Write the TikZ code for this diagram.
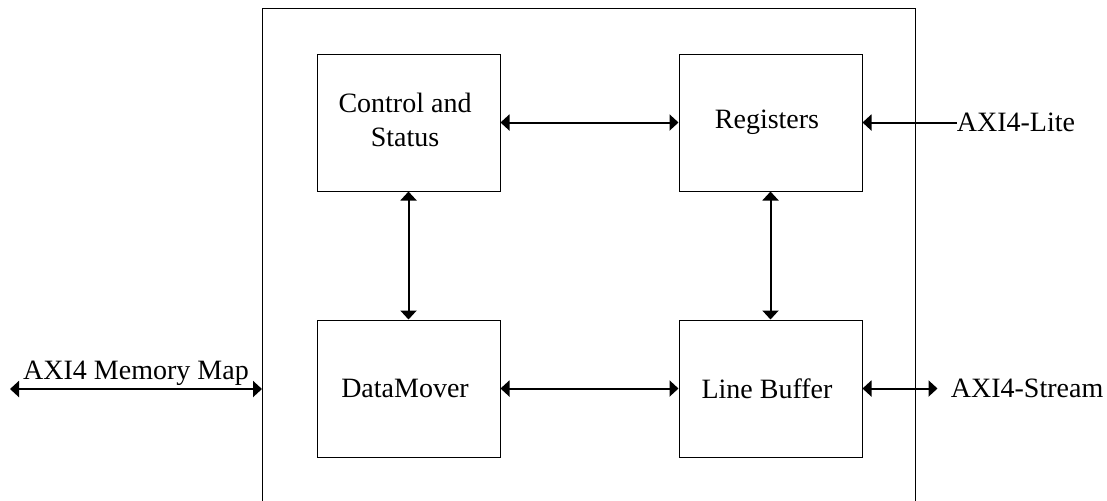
\documentclass[tikz,border=0pt]{standalone}
\usepackage{fontspec}
\setmainfont{Liberation Serif}
\usetikzlibrary{matrix,arrows.meta,positioning}

\begin{document}
\begin{tikzpicture}[x=0.5pt, y=-0.5pt,
		font=\fontsize{14}{17}\selectfont,
		>={Triangle[length=4.5pt,width=8pt]},
		blk/.style={draw, line width=0.5pt, minimum width=91.5pt, minimum height=68.5pt, align=center, inner sep=0pt, anchor=center},
		link/.style={line width=1pt}]
		\useasboundingbox (0,0) rectangle (1107,500);
		% core outline, runs off the bottom
		\draw[line width=0.5pt] (262,520) |- (915,8) -- (915,520);
		\matrix (m) [matrix of nodes, nodes={blk}, row sep=64pt, column sep=89pt] at (589.5,255.5)
		{
			\begin{tabular}{@{}c@{}}Control and\\ Status\end{tabular} & Registers   \\
			DataMover                                                 & Line Buffer \\
		};
		\path[<->, link]
		(m-1-1) edge (m-1-2)
		(m-1-1) edge (m-2-1)
		(m-1-2) edge (m-2-2)
		(m-2-1) edge (m-2-2)
		;
		% external interfaces
		\node[right=47pt of m-1-2, inner sep=0pt] (lite) {AXI4-Lite};
		\node[right=44pt of m-2-2, inner sep=0pt] (stream) {AXI4-Stream};
		\coordinate[left=6.5pt of stream.west] (stream-end);
		\coordinate (mm-in) at (262,389);
		\coordinate (mm-out) at (10,389);
		\draw[->, link] (lite.west) -- (m-1-2.east);
		\draw[<->, link] (m-2-2.east) -- (stream-end);
		\draw[<->, link] (mm-out) -- node[above, inner sep=1pt] (mm) {AXI4 Memory Map} (mm-in);
	\end{tikzpicture}
\end{document}
